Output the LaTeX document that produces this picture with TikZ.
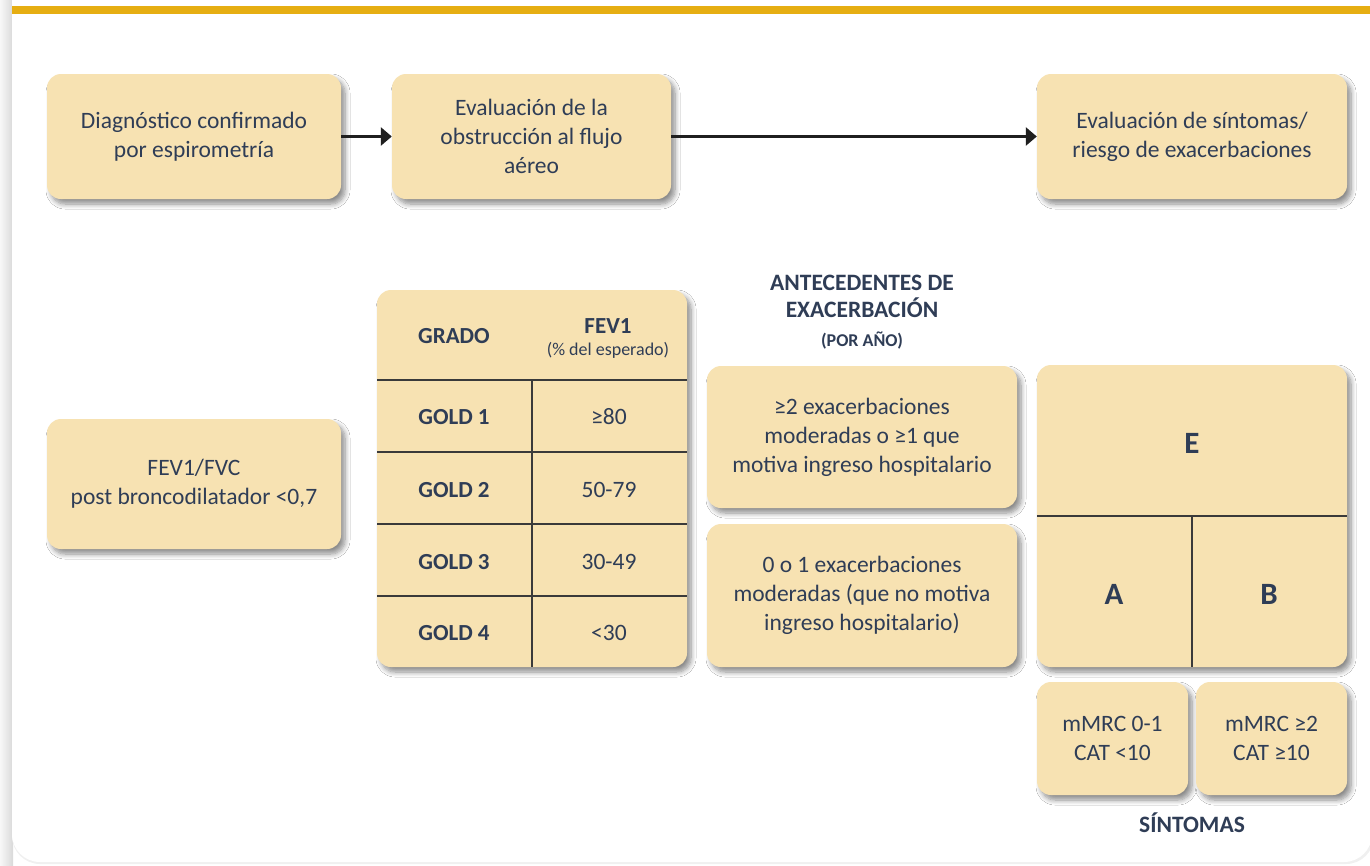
\documentclass[tikz,border=0pt]{standalone}
\usepackage{fontspec}
\setmainfont{Carlito}
\usetikzlibrary{arrows.meta,shadows.blur}
\definecolor{boxfill}{HTML}{F7E2B2}
\definecolor{ink}{HTML}{2F3D56}
\definecolor{bar}{HTML}{E6AE12}
\definecolor{rulec}{HTML}{3A3A3A}
\tikzset{
  card/.style={rounded corners=14pt, fill=boxfill, draw=none, inner sep=0pt,
    align=center, text=ink, font=\fontsize{23.5}{29}\selectfont,
    blur shadow={shadow xshift=4pt, shadow yshift=-5pt, shadow blur steps=8,
      shadow blur radius=5pt, shadow opacity=45}},
  flow/.style={line width=3pt, draw=black!88, -{Triangle[length=11pt,width=18pt]}},
  rule/.style={line width=1.3pt, draw=rulec},
  cell/.style={text=ink, font=\fontsize{23.5}{29}\selectfont, inner sep=0pt},
  bcell/.style={text=ink, font=\fontsize{23}{29}\selectfont\bfseries, inner sep=0pt},
  big/.style={text=ink, font=\fontsize{31}{34}\selectfont\bfseries, inner sep=0pt},
}
\begin{document}
\begin{tikzpicture}[x=1pt,y=-1pt]
\useasboundingbox (0,0) rectangle (1370,865);
% page panel with a soft shadow on its left edge
\shade[left color=black!3, right color=black!15] (0,0) rectangle (13,865);
\fill[black!6, rounded corners=28pt] (12,-40) rectangle (1374,864);
\fill[white, rounded corners=28pt] (12,-40) rectangle (1372,862);
\fill[bar] (12,6) rectangle (1370,14);

% top row
\node[card, minimum width=294pt, minimum height=125pt] (diag) at (194,136.5)
  {Diagnóstico confirmado\\por espirometría};
\node[card, minimum width=279pt, minimum height=125pt] (obst) at (531.5,136.5)
  {Evaluación de la\\obstrucción al flujo\\aéreo};
\node[card, minimum width=310pt, minimum height=125pt] (sint) at (1192,136.5)
  {Evaluación de síntomas/\\riesgo de exacerbaciones};
\draw[flow] (diag.east) -- (obst.west);
\draw[flow] (obst.east) -- (sint.west);

% spirometry criterion
\node[card, minimum width=294pt, minimum height=130pt] (fev) at (194,484)
  {FEV1/FVC\\post broncodilatador <0,7};

% GOLD grades table
\node[card, minimum width=310pt, minimum height=377pt] (tbl) at (532,478.5) {};
\draw[rule] (377,380) -- (687,380);
\draw[rule] (377,452) -- (687,452);
\draw[rule] (377,524) -- (687,524);
\draw[rule] (377,596) -- (687,596);
\draw[rule] (532,380) -- (532,667);
\node[bcell] (hgr) at (454,336) {GRADO};
\node[bcell] (hfev) at (608,326) {FEV1};
\node[cell, font=\fontsize{18}{21}\selectfont] (hpct) at (608,350) {(\% del esperado)};
\node[bcell] (g1) at (454,417) {GOLD 1};
\node[cell] (v1) at (609,417) {≥80};
\node[bcell] (g2) at (454,490) {GOLD 2};
\node[cell] (v2) at (609,490) {50-79};
\node[bcell] (g3) at (454,562) {GOLD 3};
\node[cell] (v3) at (609,562) {30-49};
\node[bcell] (g4) at (454,633) {GOLD 4};
\node[cell] (v4) at (609,633) {<30};

% exacerbation history
\node[bcell, font=\fontsize{23.5}{27}\selectfont\bfseries, align=center] (hant) at (862,296)
  {ANTECEDENTES DE\\EXACERBACIÓN};
\node[bcell, font=\fontsize{18}{21}\selectfont\bfseries] (hano) at (862,341) {(POR AÑO)};
\node[card, minimum width=310pt, minimum height=142pt] (ex1) at (862,437)
  {≥2 exacerbaciones\\moderadas o ≥1 que\\motiva ingreso hospitalario};
\node[card, minimum width=310pt, minimum height=143pt] (ex2) at (862,595.5)
  {0 o 1 exacerbaciones\\moderadas (que no motiva\\ingreso hospitalario)};

% ABE grid
\node[card, minimum width=310pt, minimum height=302pt] (grid) at (1192,516) {};
\draw[rule] (1037,516) -- (1347,516);
\draw[rule] (1192,516) -- (1192,667);
\node[big] (gE) at (1192,443) {E};
\node[big] (gA) at (1114,594) {A};
\node[big] (gB) at (1269,594) {B};

% symptom scales
\node[card, minimum width=151pt, minimum height=113pt] (m1) at (1112.5,738.5)
  {mMRC 0-1\\CAT <10};
\node[card, minimum width=151pt, minimum height=113pt] (m2) at (1271.5,738.5)
  {mMRC ≥2\\CAT ≥10};
\node[bcell, font=\fontsize{23.5}{27}\selectfont\bfseries] (hsin) at (1192,823) {SÍNTOMAS};
\end{tikzpicture}
\end{document}
